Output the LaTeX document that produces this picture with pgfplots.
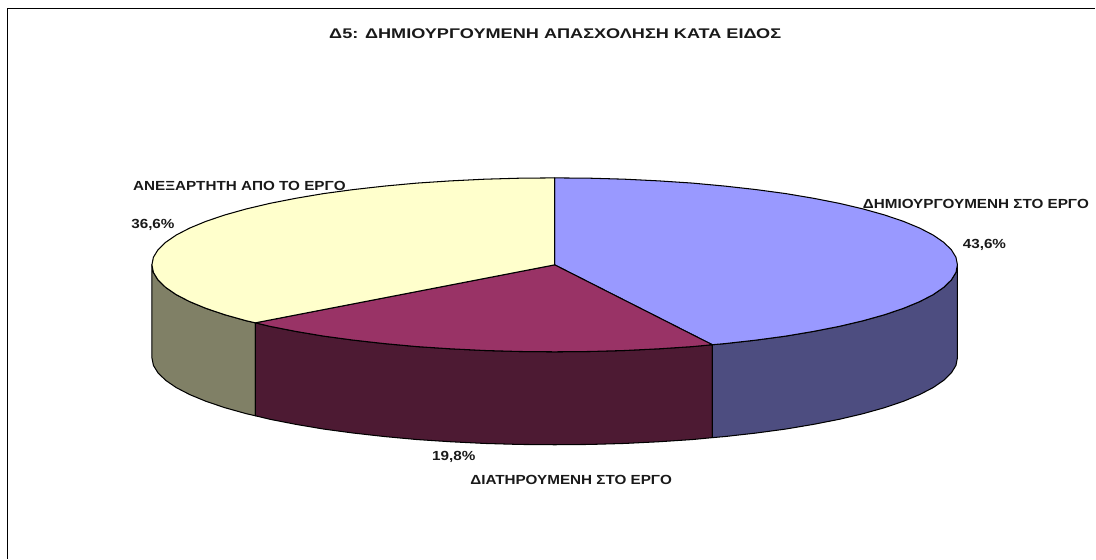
\documentclass[border=0pt]{standalone}
\usepackage{fontspec}
\setmainfont[FakeStretch=1.155]{Liberation Sans}
\newfontfamily\titlefont[FakeStretch=1.295]{Liberation Sans}
\usepackage{pgfplots}
\pgfplotsset{compat=1.18}
\definecolor{blueT}{HTML}{9999FF}
\definecolor{blueS}{HTML}{4D4D80}
\definecolor{redT}{HTML}{993366}
\definecolor{redS}{HTML}{4D1A33}
\definecolor{yelT}{HTML}{FFFFCC}
\definecolor{yelS}{HTML}{808066}
\tikzset{lbl/.style={font=\fontsize{13.2bp}{15bp}\selectfont\bfseries, text=black!90, inner sep=0pt, anchor=center}}
\begin{document}
\begin{tikzpicture}
\begin{axis}[
  scale only axis, width=1096bp, height=559bp,
  axis lines=none, xmin=0, xmax=1096, ymin=0, ymax=559, y dir=reverse,
  clip=false,
  every axis plot/.append style={no markers, line join=round, line width=1.05pt, draw=black},
]
% extent of the page
\addplot[draw=none] coordinates {(0,0) (1096,559)};
% frame
\addplot[line width=1.3pt, draw=black] coordinates {(7.5,559) (7.5,8.5) (1096,8.5)};
% yellow side
\addplot[fill=yelS] coordinates {
(255.5,323)(246.3,320.9)(224.9,314.9)(206,308.5)(189.8,301.8)(176.3,294.8)(165.7,287.5)(158.1,280.1)(153.5,272.6)(152,265)
(152,358)(153.5,365.6)(158.1,373.1)(165.7,380.5)(176.3,387.8)(189.8,394.8)(206,401.5)(224.9,407.9)(246.3,413.9)(255.5,416)
} --cycle;
% maroon side
\addplot[fill=redS] coordinates {
(712.7,344.9)(692.8,346.8)(659.3,349)(625,350.7)(590.1,351.7)(555,352)(519.9,351.7)(485,350.7)(450.7,349)(417.2,346.8)(384.7,343.8)(353.5,340.3)(323.8,336.3)(296,331.6)(270,326.5)(255.5,323)
(255.5,416)(270,419.5)(296,424.6)(323.8,429.3)(353.5,433.3)(384.7,436.8)(417.2,439.8)(450.7,442)(485,443.7)(519.9,444.7)(555,445)(590.1,444.7)(625,443.7)(659.3,442)(692.8,439.8)(712.7,437.9)
} --cycle;
% blue side
\addplot[fill=blueS] coordinates {
(958,265)(956.5,272.6)(951.9,280.1)(944.3,287.5)(933.7,294.8)(920.2,301.8)(904,308.5)(885.1,314.9)(863.7,320.9)(840,326.5)(814,331.6)(786.2,336.3)(756.5,340.3)(725.3,343.8)(712.7,344.9)
(712.7,437.9)(725.3,436.8)(756.5,433.3)(786.2,429.3)(814,424.6)(840,419.5)(863.7,413.9)(885.1,407.9)(904,401.5)(920.2,394.8)(933.7,387.8)(944.3,380.5)(951.9,373.1)(956.5,365.6)(958,358)
} --cycle;
% blue top
\addplot[fill=blueT] coordinates {
(555,265)(555,178)(590.1,178.3)(625,179.3)(659.3,181)(692.8,183.2)(725.3,186.2)(756.5,189.7)(786.2,193.7)(814,198.4)(840,203.5)(863.7,209.1)(885.1,215.1)(904,221.5)(920.2,228.2)(933.7,235.2)(944.3,242.5)(951.9,249.9)(956.5,257.4)(958,265)(956.5,272.6)(951.9,280.1)(944.3,287.5)(933.7,294.8)(920.2,301.8)(904,308.5)(885.1,314.9)(863.7,320.9)(840,326.5)(814,331.6)(786.2,336.3)(756.5,340.3)(725.3,343.8)(712.7,344.9)
} --cycle;
% maroon top
\addplot[fill=redT] coordinates {
(555,265)(712.7,344.9)(692.8,346.8)(659.3,349)(625,350.7)(590.1,351.7)(555,352)(519.9,351.7)(485,350.7)(450.7,349)(417.2,346.8)(384.7,343.8)(353.5,340.3)(323.8,336.3)(296,331.6)(270,326.5)(255.5,323)
} --cycle;
% yellow top
\addplot[fill=yelT] coordinates {
(555,265)(255.5,323)(246.3,320.9)(224.9,314.9)(206,308.5)(189.8,301.8)(176.3,294.8)(165.7,287.5)(158.1,280.1)(153.5,272.6)(152,265)(153.5,257.4)(158.1,249.9)(165.7,242.5)(176.3,235.2)(189.8,228.2)(206,221.5)(224.9,215.1)(246.3,209.1)(270,203.5)(296,198.4)(323.8,193.7)(353.5,189.7)(384.7,186.2)(417.2,183.2)(450.7,181)(485,179.3)(519.9,178.3)(555,178)
} --cycle;
\node[lbl] at (axis cs:555.5,33.5) {\titlefont\fontsize{14bp}{16bp}\selectfont\bfseries Δ5: ΔΗΜΙΟΥΡΓΟΥΜΕΝΗ ΑΠΑΣΧΟΛΗΣΗ ΚΑΤΑ ΕΙΔΟΣ};
\node[lbl] at (axis cs:239.5,186.3) {ΑΝΕΞΑΡΤΗΤΗ ΑΠΟ ΤΟ ΕΡΓΟ};
\node[lbl] at (axis cs:153,225.5) {36,6\%};
\node[lbl] at (axis cs:976.5,203.8) {ΔΗΜΙΟΥΡΓΟΥΜΕΝΗ ΣΤΟ ΕΡΓΟ};
\node[lbl] at (axis cs:985,245.5) {43,6\%};
\node[lbl] at (axis cs:454,457.5) {19,8\%};
\node[lbl] at (axis cs:571.5,479.8) {ΔΙΑΤΗΡΟΥΜΕΝΗ ΣΤΟ ΕΡΓΟ};
\end{axis}
\end{tikzpicture}
\end{document}
